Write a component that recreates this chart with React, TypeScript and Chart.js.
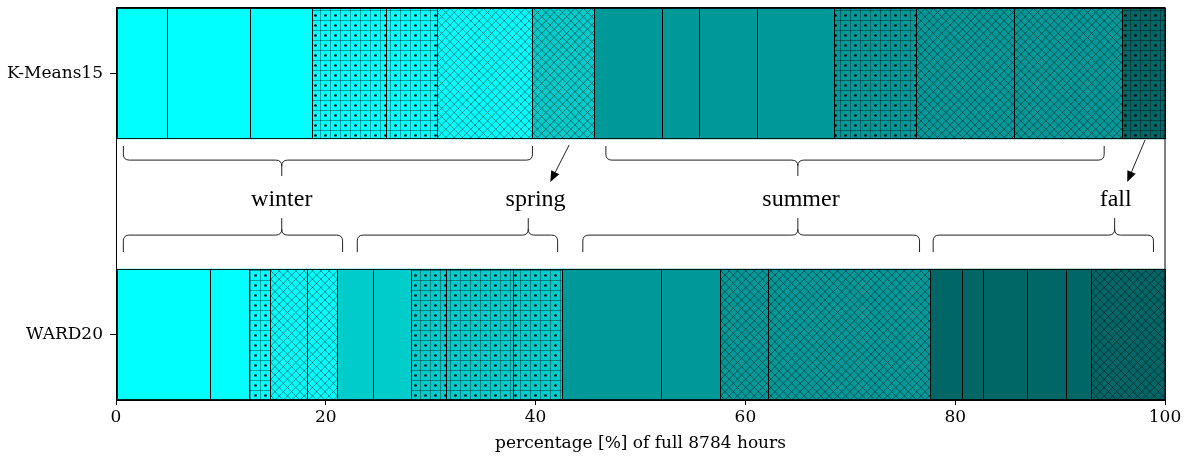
import { useEffect, useRef } from 'react';
import { Chart, registerables } from 'chart.js';
Chart.register(...registerables);

// ---- data (share of the 8784 hours per cluster, %) ----
const rowLabels = ['WARD20', 'K-Means15'];
const kmeansShares = [4.86, 7.91, 5.89, 7.07, 4.83, 9.10, 5.91, 6.52, 3.45, 5.59, 7.30, 7.82, 9.36, 10.26, 4.13];
const wardShares = [8.96, 3.68, 2.01, 3.55, 2.86, 3.42, 3.64, 3.36, 6.35, 4.73, 9.43, 5.62, 4.53, 15.43, 3.05, 2.07, 4.17, 3.72, 2.40, 7.02];
const xTicks = [0, 20, 40, 60, 80, 100];
const xTitle = 'percentage [%] of full 8784 hours';

// ---- styles ----
const tones = ['#00ffff', '#00cccc', '#009999', '#006666'];
const kmeansTone = [0, 0, 0, 0, 0, 0, 1, 2, 2, 2, 2, 2, 2, 2, 3];
const kmeansHatch = ['', '', '', '+.', '+.', 'x', 'x', '', '', '', '', '+.', 'x', 'x', '+.'];
const wardTone = [0, 0, 0, 0, 0, 1, 1, 1, 1, 1, 2, 2, 2, 2, 3, 3, 3, 3, 3, 3];
const wardHatch = ['', '', '+.', 'x', 'x', '', '', '+.', '+.', '+.', '', '', 'x', 'x', '', '', '', '', '', 'x'];

// ---- annotations (data units) ----
const seasonNames = ['winter', 'spring', 'summer', 'fall'];
const seasonLabelX = [15.8, 40.0, 65.3, 95.3];
const seasonLabelY = 0.492;
const topBraces = [[0.7, 39.7, 15.8], [46.7, 94.2, 65.0]];
const topBraceY = [0.722, 0.668, 0.607];
const bottomBraces = [[0.7, 21.6, 15.8], [23.0, 42.1, 39.3], [44.5, 76.6, 65.0], [77.9, 98.9, 95.2]];
const bottomBraceY = [0.316, 0.381, 0.446];
const arrows = [[43.2, 0.726, 41.4, 0.584], [98.1, 0.745, 96.4, 0.584]];

function makeFill(color: string, hatch: string): string | CanvasPattern {
  if (!hatch) return color;
  const c = document.createElement('canvas');
  const size = hatch === 'x' ? 25 : 10;
  c.width = size; c.height = size;
  const g = c.getContext('2d')!;
  g.fillStyle = color;
  g.fillRect(0, 0, size, size);
  if (hatch === 'x') {
    const p = size / 3;
    g.strokeStyle = 'rgba(0,0,0,0.45)';
    g.lineWidth = 1;
    g.beginPath();
    for (let k = -4; k <= 4; k++) {
      g.moveTo(k * p, 0); g.lineTo(k * p + size, size);
      g.moveTo(k * p, size); g.lineTo(k * p + size, 0);
    }
    g.stroke();
  } else {
    g.strokeStyle = 'rgba(0,0,0,0.36)';
    g.lineWidth = 1;
    g.beginPath();
    g.moveTo(0, 0.5); g.lineTo(size, 0.5);
    g.moveTo(0.5, 0); g.lineTo(0.5, size);
    g.stroke();
    g.fillStyle = '#000';
    g.beginPath();
    g.arc(5.5, 5.5, 1.3, 0, Math.PI * 2);
    g.fill();
  }
  return g.createPattern(c, 'repeat')!;
}

function drawBrace(ctx: CanvasRenderingContext2D, xL: number, xR: number, xT: number, yEnd: number, yLine: number, yTip: number) {
  const d = Math.sign(yTip - yLine);
  const r = 6;
  ctx.beginPath();
  ctx.moveTo(xL, yEnd);
  ctx.lineTo(xL, yLine - d * r);
  ctx.quadraticCurveTo(xL, yLine, xL + r, yLine);
  ctx.lineTo(xT - r, yLine);
  ctx.quadraticCurveTo(xT, yLine, xT, yLine + d * r);
  ctx.lineTo(xT, yTip);
  ctx.moveTo(xT, yLine + d * r);
  ctx.quadraticCurveTo(xT, yLine, xT + r, yLine);
  ctx.lineTo(xR - r, yLine);
  ctx.quadraticCurveTo(xR, yLine, xR, yLine - d * r);
  ctx.lineTo(xR, yEnd);
  ctx.stroke();
}

const annotationPlugin = {
  id: 'seasonAnnotations',
  afterDatasetsDraw(chart: any) {
    const { ctx, scales } = chart;
    const xs = scales.x, ys = scales.y;
    const X = (v: number) => xs.getPixelForValue(v);
    const Y = (v: number) => ys.getPixelForValue(v);
    ctx.save();
    // segment outlines
    ctx.strokeStyle = 'rgba(0,0,0,0.88)';
    ctx.lineWidth = 1;
    chart.data.datasets.forEach((_: any, di: number) => {
      const meta = chart.getDatasetMeta(di);
      meta.data.forEach((el: any) => {
        const p = el.getProps(['x', 'y', 'base', 'height'], true);
        const x0 = Math.round(Math.min(p.x, p.base)) + 0.5;
        const x1 = Math.round(Math.max(p.x, p.base)) + 0.5;
        const y0 = Math.round(p.y - p.height / 2) + 0.5;
        const y1 = Math.round(p.y + p.height / 2) - 0.5;
        ctx.strokeRect(x0, y0, x1 - x0, y1 - y0);
      });
    });
    ctx.strokeStyle = '#222';
    topBraces.forEach(([a, b, t]) => drawBrace(ctx, X(a), X(b), X(t), Y(topBraceY[0]), Y(topBraceY[1]), Y(topBraceY[2])));
    bottomBraces.forEach(([a, b, t]) => drawBrace(ctx, X(a), X(b), X(t), Y(bottomBraceY[0]), Y(bottomBraceY[1]), Y(bottomBraceY[2])));
    arrows.forEach(([x0, y0, x1, y1]) => {
      const px0 = X(x0), py0 = Y(y0), px1 = X(x1), py1 = Y(y1);
      const ang = Math.atan2(py1 - py0, px1 - px0);
      const hl = 11, hw = 4.5;
      const bx = px1 - hl * Math.cos(ang), by = py1 - hl * Math.sin(ang);
      ctx.beginPath();
      ctx.moveTo(px0, py0);
      ctx.lineTo(bx, by);
      ctx.stroke();
      ctx.fillStyle = '#000';
      ctx.beginPath();
      ctx.moveTo(px1, py1);
      ctx.lineTo(bx + hw * Math.sin(ang), by - hw * Math.cos(ang));
      ctx.lineTo(bx - hw * Math.sin(ang), by + hw * Math.cos(ang));
      ctx.closePath();
      ctx.fill();
    });
    ctx.fillStyle = '#000';
    ctx.font = '24px "Liberation Serif", serif';
    ctx.textAlign = 'center';
    ctx.textBaseline = 'alphabetic';
    seasonNames.forEach((s, i) => ctx.fillText(s, X(seasonLabelX[i]), Y(seasonLabelY)));
    ctx.restore();
  },
  afterDraw(chart: any) {
    const { ctx, chartArea: a } = chart;
    ctx.save();
    ctx.strokeStyle = '#000';
    ctx.lineWidth = 1;
    ctx.strokeRect(Math.round(a.left) + 0.5, Math.round(a.top) - 0.5, Math.round(a.right - a.left) - 0.5, Math.round(a.bottom - a.top) + 1);
    ctx.restore();
  },
};

export default function App() {
  const ref = useRef<HTMLCanvasElement>(null);
  useEffect(() => {
    const canvas = ref.current!;
    const kFill = kmeansShares.map((_, i) => makeFill(tones[kmeansTone[i]], kmeansHatch[i]));
    const wFill = wardShares.map((_, i) => makeFill(tones[wardTone[i]], wardHatch[i]));
    const n = Math.max(kmeansShares.length, wardShares.length);
    const datasets = [] as any[];
    for (let i = 0; i < n; i++) {
      const data: any[] = [];
      if (i < kmeansShares.length) data.push({ y: 1, x: kmeansShares[i] });
      if (i < wardShares.length) data.push({ y: 0, x: wardShares[i] });
      datasets.push({
        label: 'cluster ' + (i + 1),
        data,
        backgroundColor: (c: any) => {
          if (!c.raw) return '#000';
          return c.raw.y === 1 ? kFill[c.datasetIndex] : wFill[c.datasetIndex];
        },
        borderWidth: 0,
        inflateAmount: 0.5,
        categoryPercentage: 1,
        barPercentage: 0.5,
      });
    }
    const tickFont = { family: '"DejaVu Serif", serif', size: 17 };
    const chart = new Chart(canvas, {
      type: 'bar',
      data: { datasets },
      options: {
        indexAxis: 'y',
        animation: false,
        responsive: false,
        layout: { padding: { left: 0, top: 8, right: 23, bottom: 0 } },
        plugins: { legend: { display: false }, tooltip: { enabled: false } },
        scales: {
          x: {
            type: 'linear',
            stacked: true,
            min: 0,
            max: 100,
            afterBuildTicks: (s: any) => { s.ticks = xTicks.map((v) => ({ value: v })); },
            afterFit: (s: any) => { s.height = 59; s.paddingLeft = 0; s.paddingRight = 0; },
            ticks: { font: tickFont, color: '#000', padding: 2, maxRotation: 0 },
            grid: { drawOnChartArea: false, tickLength: 5, color: '#000' },
            border: { display: true, color: '#000' },
            title: { display: true, text: xTitle, font: tickFont, color: '#000', padding: { top: 0, bottom: 5 } },
          },
          y: {
            type: 'linear',
            stacked: true,
            offset: false,
            min: -0.25,
            max: 1.25,
            afterBuildTicks: (s: any) => { s.ticks = [{ value: 0 }, { value: 1 }]; },
            afterFit: (s: any) => { s.width = 116; s.paddingTop = 0; s.paddingBottom = 0; },
            ticks: { font: tickFont, color: '#000', padding: 7, callback: (v: any) => rowLabels[v] ?? '' },
            grid: { drawOnChartArea: false, offset: false, tickLength: 6, color: '#000' },
            border: { display: true, color: '#000' },
          },
        },
      },
      plugins: [annotationPlugin],
    } as any);
    return () => chart.destroy();
  }, []);
  return (
    <div style={{ position: 'fixed', left: 0, top: 0, width: 1188, height: 459, background: '#fff' }}>
      <canvas ref={ref} width={1188} height={459} style={{ display: 'block' }} />
    </div>
  );
}
